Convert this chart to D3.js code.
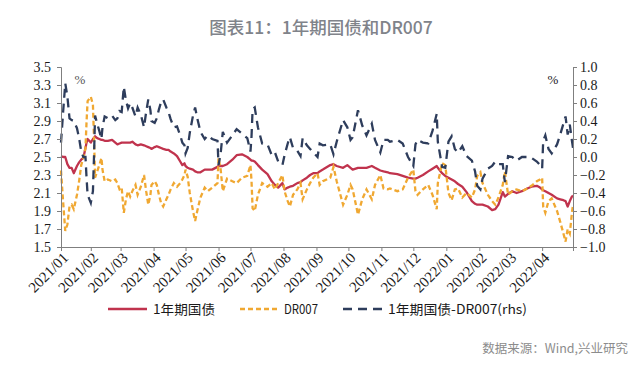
<!DOCTYPE html>
<html><head><meta charset="utf-8">
<script src="https://cdn.jsdelivr.net/npm/d3@7"></script>
<style>
html,body{margin:0;padding:0;background:#fff;}
svg{display:block;}
.ax text{font-family:"Liberation Serif","DejaVu Serif",serif;font-size:14px;fill:#1a1a1a;}
.axb text{font-size:15px;}
</style>
</head><body>
<svg id="chart" width="640" height="373"></svg>
<script>
const titleText = "图表11：1年期国债和DR007";
const sourceText = "数据来源：Wind,兴业研究";
const legendLabels = ["1年期国债", "DR007", "1年期国债-DR007(rhs)"];
const leftTicks = [1.5,1.7,1.9,2.1,2.3,2.5,2.7,2.9,3.1,3.3,3.5];
const rightTicks = [-1.0,-0.8,-0.6,-0.4,-0.2,0.0,0.2,0.4,0.6,0.8,1.0];

const dates = ["2021-01-04","2021-01-06","2021-01-08","2021-01-10","2021-01-12","2021-01-14","2021-01-16","2021-01-19","2021-01-21","2021-01-23","2021-01-25","2021-01-27","2021-01-28","2021-01-29",
"2021-02-01","2021-02-03","2021-02-04","2021-02-05","2021-02-07","2021-02-09","2021-02-11","2021-02-12","2021-02-14","2021-02-17","2021-02-21","2021-02-24","2021-02-26","2021-02-28",
"2021-03-02","2021-03-04","2021-03-06","2021-03-08","2021-03-10","2021-03-12","2021-03-15","2021-03-17","2021-03-20","2021-03-23","2021-03-25","2021-03-27","2021-03-29","2021-03-30",
"2021-04-02","2021-04-04","2021-04-06","2021-04-08","2021-04-10","2021-04-13","2021-04-15","2021-04-17","2021-04-20","2021-04-23","2021-04-26","2021-04-28","2021-04-30",
"2021-05-01","2021-05-03","2021-05-05","2021-05-08","2021-05-10","2021-05-12","2021-05-15","2021-05-19","2021-05-22","2021-05-26","2021-05-31",
"2021-06-01","2021-06-03","2021-06-05","2021-06-09","2021-06-14","2021-06-18","2021-06-23","2021-06-28",
"2021-07-01","2021-07-02","2021-07-03","2021-07-05","2021-07-08","2021-07-12","2021-07-17","2021-07-21","2021-07-24","2021-07-27","2021-07-31",
"2021-08-02","2021-08-05","2021-08-07","2021-08-10","2021-08-14","2021-08-17","2021-08-19","2021-08-23","2021-08-26","2021-08-29",
"2021-09-02","2021-09-04","2021-09-07","2021-09-14","2021-09-17","2021-09-20","2021-09-26","2021-09-30",
"2021-10-03","2021-10-05","2021-10-10","2021-10-14","2021-10-18","2021-10-23","2021-10-26","2021-10-31",
"2021-11-03","2021-11-07","2021-11-09","2021-11-16","2021-11-21","2021-11-26",
"2021-12-01","2021-12-03","2021-12-05","2021-12-10","2021-12-15","2021-12-19","2021-12-23","2021-12-24","2021-12-28","2021-12-31",
"2022-01-03","2022-01-06","2022-01-09","2022-01-12","2022-01-16","2022-01-20","2022-01-25","2022-01-28","2022-01-30",
"2022-02-02","2022-02-04","2022-02-09","2022-02-13","2022-02-16","2022-02-19","2022-02-23","2022-02-25","2022-02-28",
"2022-03-04","2022-03-08","2022-03-13","2022-03-18","2022-03-22","2022-03-27","2022-03-30",
"2022-04-01","2022-04-02","2022-04-04","2022-04-07","2022-04-10","2022-04-15","2022-04-18","2022-04-21","2022-04-23","2022-04-25","2022-04-27","2022-04-29","2022-04-30"];

const bond1y = [2.51,2.50,2.50,2.42,2.38,2.38,2.32,2.40,2.44,2.47,2.49,2.60,2.66,2.70,
2.66,2.70,2.71,2.73,2.71,2.70,2.69,2.69,2.68,2.68,2.69,2.66,2.64,2.65,
2.66,2.66,2.66,2.66,2.66,2.67,2.64,2.63,2.64,2.63,2.62,2.61,2.60,2.59,
2.61,2.62,2.61,2.60,2.59,2.58,2.58,2.56,2.54,2.51,2.45,2.41,2.43,
2.40,2.38,2.37,2.36,2.34,2.33,2.33,2.36,2.36,2.36,2.39,
2.40,2.40,2.40,2.42,2.47,2.52,2.53,2.50,
2.47,2.46,2.46,2.45,2.41,2.36,2.31,2.23,2.19,2.16,2.21,
2.14,2.16,2.17,2.18,2.21,2.22,2.24,2.27,2.30,2.32,
2.32,2.34,2.36,2.41,2.42,2.40,2.38,2.41,
2.38,2.36,2.38,2.38,2.38,2.40,2.38,2.35,
2.34,2.33,2.32,2.31,2.29,2.27,
2.26,2.26,2.27,2.30,2.34,2.37,2.40,2.38,2.32,2.29,
2.27,2.25,2.23,2.20,2.17,2.11,2.01,1.98,1.97,
1.97,1.97,1.95,1.91,1.92,1.97,2.11,2.06,2.09,
2.12,2.10,2.12,2.15,2.17,2.18,2.16,
2.14,2.13,2.12,2.10,2.08,2.04,2.03,2.02,2.01,1.95,2.01,2.06,2.07];

const dr007 = [2.35,2.00,1.68,1.75,1.95,1.97,1.92,2.08,2.23,2.41,2.49,2.60,2.89,3.12,
3.17,3.08,2.71,2.27,2.34,2.41,2.49,2.36,2.23,2.25,2.23,2.25,2.21,2.14,
2.16,1.88,2.03,2.12,2.06,2.12,2.19,2.08,2.17,2.30,2.12,1.97,2.08,2.19,
2.23,2.19,2.08,1.99,1.95,2.03,2.08,2.14,2.21,2.17,2.21,2.25,2.30,
2.36,2.28,2.10,1.90,1.79,1.90,2.05,2.16,2.12,2.16,2.21,
2.49,2.36,2.12,2.26,2.23,2.21,2.27,2.29,
2.41,2.23,1.93,1.90,2.08,2.21,2.17,2.21,2.14,2.21,2.30,
2.12,2.01,1.95,2.08,2.14,2.21,2.03,2.14,2.21,2.27,
2.32,2.19,2.23,2.27,2.39,2.23,1.97,2.08,
2.19,2.14,1.86,2.03,2.14,2.03,2.19,2.30,
2.15,2.14,2.15,2.12,2.14,2.27,
2.36,2.12,2.08,2.14,2.19,2.08,1.92,2.21,2.43,2.41,
2.10,2.02,2.14,2.15,2.05,2.10,2.05,2.14,2.29,
2.33,2.21,2.08,2.01,1.97,2.05,2.19,2.34,2.08,
2.12,2.14,2.12,2.15,2.18,2.23,2.25,
2.27,1.95,1.88,2.01,2.04,1.90,1.78,1.65,1.56,1.70,1.65,1.88,1.97];

const spread = [0.16,0.50,0.82,0.67,0.43,0.41,0.40,0.32,0.21,0.06,0.00,0.00,-0.23,-0.42,
-0.51,-0.38,0.00,0.46,0.37,0.29,0.20,0.33,0.45,0.43,0.46,0.41,0.43,0.51,
0.50,0.78,0.63,0.54,0.60,0.55,0.45,0.55,0.47,0.33,0.50,0.64,0.52,0.40,
0.38,0.43,0.53,0.61,0.64,0.55,0.50,0.42,0.33,0.34,0.24,0.16,0.13,
0.04,0.10,0.27,0.46,0.55,0.43,0.28,0.20,0.24,0.20,0.18,
-0.09,0.04,0.28,0.16,0.24,0.31,0.26,0.21,
0.06,0.23,0.53,0.55,0.33,0.15,0.14,0.02,0.05,-0.05,-0.09,
0.02,0.15,0.22,0.10,0.07,0.01,0.21,0.13,0.09,0.05,
0.00,0.15,0.13,0.14,0.03,0.17,0.41,0.33,
0.19,0.22,0.52,0.35,0.24,0.37,0.19,0.05,
0.19,0.19,0.17,0.19,0.15,0.00,
-0.10,0.14,0.19,0.16,0.15,0.29,0.48,0.17,-0.11,-0.12,
0.17,0.23,0.09,0.05,0.12,0.01,-0.04,-0.16,-0.32,
-0.36,-0.24,-0.13,-0.10,-0.05,-0.08,-0.08,-0.28,0.01,
0.00,-0.04,0.00,0.00,-0.01,-0.05,-0.09,
-0.13,0.18,0.24,0.09,0.04,0.14,0.25,0.37,0.45,0.25,0.36,0.18,0.10];

const parse = d3.timeParse("%Y-%m-%d");
const T = dates.map(parse);

const svg = d3.select("#chart");
const L = 61, R = 573, TOP = 67, BOT = 247;
const axisColor = "#7f7f7f";

const x = d3.scaleTime().domain([parse("2021-01-04"), parse("2022-04-30")]).range([L, R]);
const yL = d3.scaleLinear().domain([1.5, 3.5]).range([BOT, TOP]);
const yR = d3.scaleLinear().domain([-1.0, 1.0]).range([BOT, TOP]);

// title
svg.append("text").attr("x", 321).attr("y", 34).attr("text-anchor", "middle")
  .attr("font-family", "'Noto Sans CJK SC', sans-serif").attr("font-size", 17.5)
  .attr("font-weight", 500).attr("fill", "#80838a").text(titleText);

// lines
const lineL = (vals) => d3.line().x((d, i) => x(T[i])).y(d => yL(d))(vals);
const lineR = (vals) => d3.line().x((d, i) => x(T[i])).y(d => yR(d))(vals);

const red = "#c0334d", orange = "#f0a832", navy = "#2e3d5c";
svg.append("path").attr("d", lineL(bond1y)).attr("fill", "none").attr("stroke", red)
  .attr("stroke-width", 2.3).attr("stroke-linejoin", "round");
svg.append("path").attr("d", lineL(dr007)).attr("fill", "none").attr("stroke", orange)
  .attr("stroke-width", 2.3).attr("stroke-dasharray", "5,3");
svg.append("path").attr("d", lineR(spread)).attr("fill", "none").attr("stroke", navy)
  .attr("stroke-width", 2.3).attr("stroke-dasharray", "9,6");

// axes
const gL = svg.append("g").attr("class", "ax").attr("transform", `translate(${L},0)`)
  .call(d3.axisLeft(yL).tickValues(leftTicks).tickFormat(d3.format(".1f")).tickSize(4).tickPadding(6));
const gR = svg.append("g").attr("class", "ax").attr("transform", `translate(${R},0)`)
  .call(d3.axisRight(yR).tickValues(rightTicks).tickFormat(d3.format(".1f")).tickSize(4).tickPadding(3));
const monthTicks = [parse("2021-01-04")].concat(d3.timeMonth.range(parse("2021-02-01"), parse("2022-04-30")));
const gB = svg.append("g").attr("class", "ax axb").attr("transform", `translate(0,${BOT})`)
  .call(d3.axisBottom(x).tickValues(monthTicks).tickFormat(d3.timeFormat("%Y/%m")).tickSize(4));

[gL, gR, gB].forEach(g => {
  g.attr("font-family", null).attr("font-size", null);
  g.selectAll(".domain").attr("stroke", axisColor).attr("stroke-width", 1);
  g.selectAll(".tick line").attr("stroke", axisColor);
  g.selectAll("text").attr("fill", "#1a1a1a");
});
gB.selectAll(".tick text")
  .attr("text-anchor", "end")
  .attr("transform", "translate(4,8) rotate(-45)")
  .attr("x", 0).attr("y", 0).attr("dy", "0.35em");

// percent labels
svg.append("text").attr("x", 80).attr("y", 84).attr("text-anchor", "middle")
  .style("font-family", '"Liberation Serif","DejaVu Serif",serif').style("font-size", "13px").attr("fill", "#555").text("%");
svg.append("text").attr("x", 553).attr("y", 84).attr("text-anchor", "middle")
  .style("font-family", '"Liberation Serif","DejaVu Serif",serif').style("font-size", "13px").attr("fill", "#1a1a1a").text("%");

// legend
const legY = 309;
const legFont = "'Noto Sans CJK SC', 'Liberation Mono', monospace";
const items = [
  {x1: 108, x2: 147, tx: 153, tw: 62, color: red, dash: null},
  {x1: 240, x2: 280, tx: 284, tw: 34, color: orange, dash: "5,3"},
  {x1: 343, x2: 386, tx: 388, tw: 139, color: navy, dash: "9,6"}
];
items.forEach((it, i) => {
  const ln = svg.append("line").attr("x1", it.x1).attr("x2", it.x2).attr("y1", legY).attr("y2", legY)
    .attr("stroke", it.color).attr("stroke-width", 2.6);
  if (it.dash) ln.attr("stroke-dasharray", it.dash);
  svg.append("text").attr("x", it.tx).attr("y", legY + 5).attr("font-family", legFont)
    .attr("font-size", 13).attr("fill", "#1a1a1a")
    .attr("textLength", it.tw).attr("lengthAdjust", "spacingAndGlyphs").text(legendLabels[i]);
});

// source
svg.append("text").attr("x", 628).attr("y", 353).attr("text-anchor", "end")
  .attr("font-family", "'Noto Sans CJK SC', sans-serif").attr("font-size", 12.5)
  .attr("fill", "#8c8c8c").text(sourceText);
</script>
</body></html>
